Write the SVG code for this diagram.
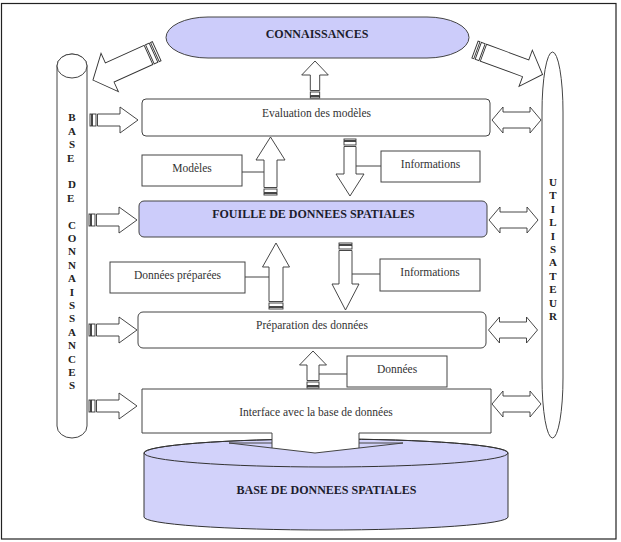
<svg xmlns="http://www.w3.org/2000/svg" width="621" height="542" viewBox="0 0 621 542">
<style>
.frame{fill:none;stroke:#222;stroke-width:1.2}
.box{fill:#fff;stroke:#444;stroke-width:1}
.hl{fill:#ccccfa;stroke:#444;stroke-width:1}
.db{fill:#d2d2fa;stroke:#333;stroke-width:1}
.ar{fill:#fff;stroke:#333;stroke-width:0.9}
.ln{fill:none;stroke:#444;stroke-width:1}
.t{font-family:"Liberation Serif","Times New Roman",serif;font-size:11.5px;fill:#333;text-anchor:middle}
.b{font-family:"Liberation Serif","Times New Roman",serif;font-size:12px;font-weight:bold;fill:#1c1c2c;text-anchor:middle}
.v{font-family:"Liberation Serif","Times New Roman",serif;font-size:11px;font-weight:bold;fill:#222;text-anchor:middle}
</style>
<defs>
<g id="harrow">
<rect class="ar" x="0" y="-6" width="1.5" height="12"/>
<rect class="ar" x="2.5" y="-6" width="3.5" height="12"/>
<path class="ar" d="M7.5,-6 H30 V-13 L48,0 L30,13 V6 H7.5 Z"/>
</g>
<path id="darrow" class="ar" d="M0,0 L11,-13 V-8 H38 V-13 L49,0 L38,13 V8 H11 V13 Z"/>
</defs>

<rect class="frame" x="1.5" y="3.5" width="614.5" height="535.5"/>

<g id="connaissances">
<rect class="hl" x="166" y="17" width="303" height="41" rx="42" ry="20.5"/>
<text class="b" x="317" y="38">CONNAISSANCES</text>
</g>

<g id="base-connaissances">
<path class="box" d="M57,66 A15,12 0 0 1 87,66 V426 A15,12 0 0 1 57,426 Z"/>
<ellipse class="box" cx="72" cy="66" rx="15" ry="12"/>
<text class="v">
<tspan x="72" y="121.3">B</tspan><tspan x="72" y="134.7">A</tspan><tspan x="72" y="148.1">S</tspan><tspan x="72" y="161.5">E</tspan>
<tspan x="72" y="188.3">D</tspan><tspan x="72" y="201.7">E</tspan>
<tspan x="72" y="228.5">C</tspan><tspan x="72" y="241.9">O</tspan><tspan x="72" y="255.3">N</tspan><tspan x="72" y="268.7">N</tspan><tspan x="72" y="282.1">A</tspan><tspan x="72" y="295.5">I</tspan><tspan x="72" y="308.9">S</tspan><tspan x="72" y="322.3">S</tspan><tspan x="72" y="335.7">A</tspan><tspan x="72" y="349.1">N</tspan><tspan x="72" y="362.5">C</tspan><tspan x="72" y="375.9">E</tspan><tspan x="72" y="389.3">S</tspan>
</text>
</g>

<g id="utilisateur">
<rect class="box" x="542" y="52" width="21" height="386" rx="10.5" ry="60"/>
<text class="v">
<tspan x="553" y="186">U</tspan><tspan x="553" y="199.4">T</tspan><tspan x="553" y="212.8">I</tspan><tspan x="553" y="226.2">L</tspan><tspan x="553" y="239.6">I</tspan><tspan x="553" y="253">S</tspan><tspan x="553" y="266.4">A</tspan><tspan x="553" y="279.8">T</tspan><tspan x="553" y="293.2">E</tspan><tspan x="553" y="306.6">U</tspan><tspan x="553" y="320">R</tspan>
</text>
</g>

<g id="evaluation">
<rect class="box" x="142" y="99" width="348" height="37" rx="4"/>
<text class="t" x="316.5" y="116.5">Evaluation des modèles</text>
</g>

<g id="modeles">
<rect class="box" x="142" y="155" width="100" height="31"/>
<text class="t" x="192" y="171.5">Modèles</text>
</g>

<g id="informations1">
<rect class="box" x="381" y="151" width="99" height="31"/>
<text class="t" x="430.5" y="167.5">Informations</text>
</g>

<g id="fouille">
<rect class="hl" x="139" y="201" width="348" height="36" rx="5"/>
<text class="b" x="313.5" y="218">FOUILLE DE DONNEES SPATIALES</text>
</g>

<g id="donnees-preparees">
<rect class="box" x="110" y="262" width="135" height="31"/>
<text class="t" x="177.5" y="278.5">Données préparées</text>
</g>

<g id="informations2">
<rect class="box" x="380" y="259" width="100" height="32"/>
<text class="t" x="430" y="275.5">Informations</text>
</g>

<g id="preparation">
<rect class="box" x="138" y="312" width="348" height="36" rx="5"/>
<text class="t" x="312" y="328.5">Préparation des données</text>
</g>

<g id="donnees">
<rect class="box" x="347" y="356" width="100" height="31"/>
<text class="t" x="397" y="373">Données</text>
</g>

<g id="base-donnees">
<path class="db" d="M144,453 A182,14 0 0 1 508,453 V517 A182,13 0 0 1 144,517 Z"/>
<ellipse cx="326" cy="453" rx="182" ry="14" fill="none" stroke="#333" stroke-width="1"/>
<text class="b" x="326.5" y="494">BASE DE DONNEES SPATIALES</text>
</g>

<g id="interface">
<path class="box" d="M142,389 H491 V433 H359 V448 L315,453 L272,448 V433 H142 Z"/>
<path class="ln" d="M272,448 L229,443 H272 M359,448 L403,443 H359"/>
<text class="t" x="316" y="415.5">Interface avec la base de données</text>
</g>

<g id="connectors">
<!-- big diagonal arrows -->
<g transform="translate(156.7,51.2) rotate(155.6)">
<rect class="ar" x="0" y="-10.5" width="2" height="21"/>
<rect class="ar" x="3.5" y="-10.5" width="4" height="21"/>
<path class="ar" d="M9,-10.5 H51.6 V-21 L70,0 L51.6,21 V10.5 H9 Z"/>
</g>
<g transform="translate(475,49.6) rotate(20.2)">
<rect class="ar" x="0" y="-9" width="2" height="18"/>
<rect class="ar" x="3.5" y="-9" width="4" height="18"/>
<path class="ar" d="M9,-9 H54 V-19.3 L72,0 L54,19.3 V9 H9 Z"/>
</g>

<!-- left striped arrows -->
<use href="#harrow" transform="translate(90,120)"/>
<use href="#harrow" transform="translate(89,220)"/>
<use href="#harrow" transform="translate(89,330)"/>
<use href="#harrow" transform="translate(89,406)"/>

<!-- right double arrows -->
<use href="#darrow" transform="translate(492,120)"/>
<use href="#darrow" transform="translate(489,220)"/>
<use href="#darrow" transform="translate(488.5,330)"/>
<use href="#darrow" transform="translate(492,404)"/>

<!-- vertical arrows -->
<path class="ar" d="M315,61 L328.3,75 H319.7 V90.5 H310.3 V75 H301.7 Z"/>
<rect class="ar" x="310.3" y="92" width="9.4" height="3.5"/>
<rect class="ar" x="310.3" y="96.5" width="9.4" height="1.5"/>

<path class="ar" d="M270.5,137 L285,160 H277 V187.5 H264 V160 H256 Z"/>
<rect class="ar" x="264" y="189" width="13" height="3.5"/>
<rect class="ar" x="264" y="193.5" width="13" height="1.5"/>

<rect class="ar" x="344" y="139" width="12" height="1.5"/>
<rect class="ar" x="344" y="141.5" width="12" height="3.5"/>
<path class="ar" d="M344,146.5 H356 V174 H364 L350,196 L336,174 H344 Z"/>

<path class="ar" d="M276,243 L289.5,267 H283 V301.5 H269 V267 H262.5 Z"/>
<rect class="ar" x="269" y="303" width="14" height="3.5"/>
<rect class="ar" x="269" y="307.5" width="14" height="1.5"/>

<rect class="ar" x="339" y="243" width="13" height="1.5"/>
<rect class="ar" x="339" y="245.5" width="13" height="3.5"/>
<path class="ar" d="M339,250.5 H352 V284 H359 L345.5,310 L332,284 H339 Z"/>

<path class="ar" d="M313,351 L326.5,365 H319 V380.5 H307 V365 H299.5 Z"/>
<rect class="ar" x="307" y="382" width="12" height="3.5"/>
<rect class="ar" x="307" y="386.5" width="12" height="1.5"/>

<!-- label connector lines -->
<path class="ln" d="M242,172 H264 M356,166 H381 M245,277 H269 M352,274 H380 M319,374 H347"/>
</g>
</svg>
